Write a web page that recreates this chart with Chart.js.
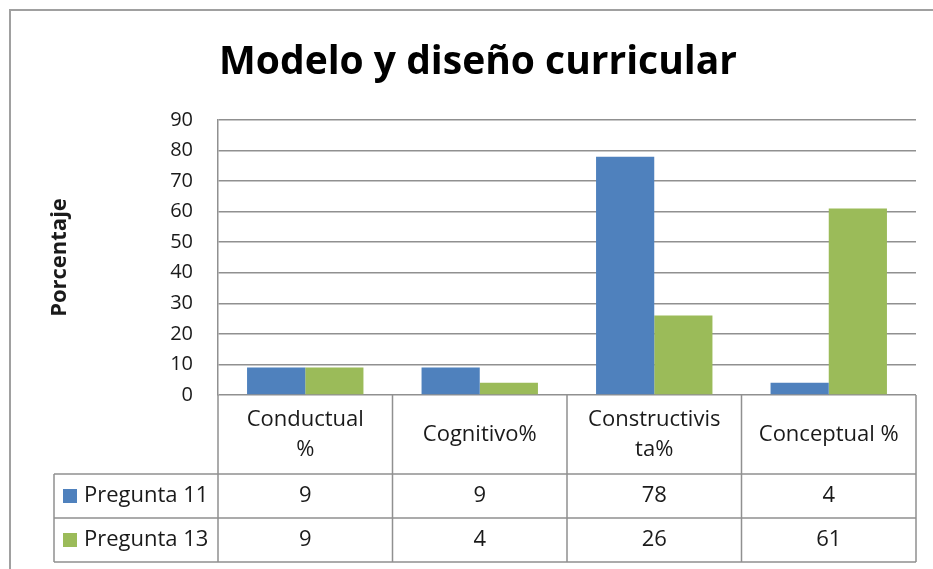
<!DOCTYPE html>
<html>
<head>
<meta charset="utf-8">
<script src="https://cdn.jsdelivr.net/npm/chart.js@4.4.0/dist/chart.umd.min.js"></script>
<style>
  html, body { margin: 0; padding: 0; background: #fff; }
</style>
</head>
<body>
<canvas id="chart" width="933" height="569"></canvas>
<script>
// Data
const categories = [['Conductual', '%'], ['Cognitivo%'], ['Constructivis', 'ta%'], ['Conceptual %']];
const seriesNames = ['Pregunta 11', 'Pregunta 13'];
const pregunta11 = [9, 9, 78, 4];
const pregunta13 = [9, 4, 26, 61];
const yMax = 90;
const yStep = 10;

const blue = '#4f81bd';
const green = '#9bbb59';
const lineColor = '#909090';
const textColor = '#1a1a1a';
const fontFamily = '"Open Sans", "Liberation Sans", sans-serif';

// Outer frame + data table under the plot
const dataTable = {
    id: 'dataTable',
    afterDraw(chart) {
        const ctx = chart.ctx;
        const area = chart.chartArea;
        const n = categories.length;
        const band = (area.right - area.left) / n;
        const headTop = area.bottom;
        const headBottom = headTop + 79;
        const rowH = 44;
        const tableLeft = 54;
        const rows = [pregunta11, pregunta13];
        const colors = [blue, green];
        const tableBottom = headBottom + rowH * rows.length;

        ctx.save();

        // frame of the chart object
        ctx.strokeStyle = '#a0a0a0';
        ctx.lineWidth = 2;
        ctx.beginPath();
        ctx.moveTo(10, chart.height);
        ctx.lineTo(10, 10);
        ctx.lineTo(chart.width, 10);
        ctx.stroke();

        ctx.strokeStyle = lineColor;
        ctx.lineWidth = 1.5;
        ctx.beginPath();
        // column separators
        for (let i = 0; i <= n; i++) {
            const xp = area.left + i * band;
            ctx.moveTo(xp, headTop);
            ctx.lineTo(xp, tableBottom);
        }
        // left edge of the series column
        ctx.moveTo(tableLeft, headBottom);
        ctx.lineTo(tableLeft, tableBottom);
        // row lines
        for (let r = 0; r <= rows.length; r++) {
            const yp = headBottom + r * rowH;
            ctx.moveTo(tableLeft, yp);
            ctx.lineTo(area.right, yp);
        }
        ctx.stroke();

        ctx.fillStyle = textColor;
        ctx.font = '22px ' + fontFamily;
        ctx.textAlign = 'center';
        ctx.textBaseline = 'middle';

        // category headers
        const headMid = (headTop + headBottom) / 2;
        categories.forEach((lines, i) => {
            const cx = chart.scales.x.getPixelForValue(i);
            lines.forEach((line, j) => {
                ctx.fillText(line, cx, headMid + (j - (lines.length - 1) / 2) * 30);
            });
        });

        // series rows
        rows.forEach((values, r) => {
            const mid = headBottom + r * rowH + rowH / 2;
            ctx.fillStyle = colors[r];
            ctx.fillRect(63, mid - 7, 14, 14);
            ctx.fillStyle = textColor;
            ctx.textAlign = 'left';
            ctx.fillText(seriesNames[r], 84, mid);
            ctx.textAlign = 'center';
            values.forEach((v, i) => {
                ctx.fillText(String(v), chart.scales.x.getPixelForValue(i), mid);
            });
        });

        ctx.restore();
    }
};

new Chart(document.getElementById('chart'), {
    type: 'bar',
    data: {
        labels: categories,
        datasets: [{
            label: seriesNames[0],
            data: pregunta11,
            backgroundColor: blue,
            borderWidth: 0
        }, {
            label: seriesNames[1],
            data: pregunta13,
            backgroundColor: green,
            borderWidth: 0
        }]
    },
    options: {
        responsive: false,
        animation: false,
        events: [],
        layout: { padding: { left: 40, right: 17, top: 0, bottom: 0 } },
        datasets: { bar: { categoryPercentage: 0.667, barPercentage: 1 } },
        plugins: {
            legend: { display: false },
            tooltip: { enabled: false },
            title: {
                display: true,
                text: 'Modelo y diseño curricular',
                color: '#000',
                font: { family: fontFamily, size: 39, weight: 'bold', lineHeight: '48px' },
                padding: { top: 39, bottom: 33 }
            }
        },
        scales: {
            x: {
                grid: { display: false },
                border: { display: false },
                ticks: { display: false },
                afterFit(scale) { scale.height = 174; }
            },
            y: {
                min: 0,
                max: yMax,
                ticks: {
                    stepSize: yStep,
                    padding: 25,
                    color: textColor,
                    font: { family: fontFamily, size: 20 }
                },
                grid: { color: lineColor, lineWidth: 1.5, drawTicks: false },
                border: { display: true, color: lineColor, width: 1.5 },
                title: {
                    display: true,
                    text: 'Porcentaje',
                    color: textColor,
                    font: { family: fontFamily, size: 22, weight: 'bold', lineHeight: 1.2 },
                    padding: { top: 7, bottom: 0 }
                },
                afterFit(scale) { scale.width = 178; }
            }
        }
    },
    plugins: [dataTable]
});
</script>
</body>
</html>
